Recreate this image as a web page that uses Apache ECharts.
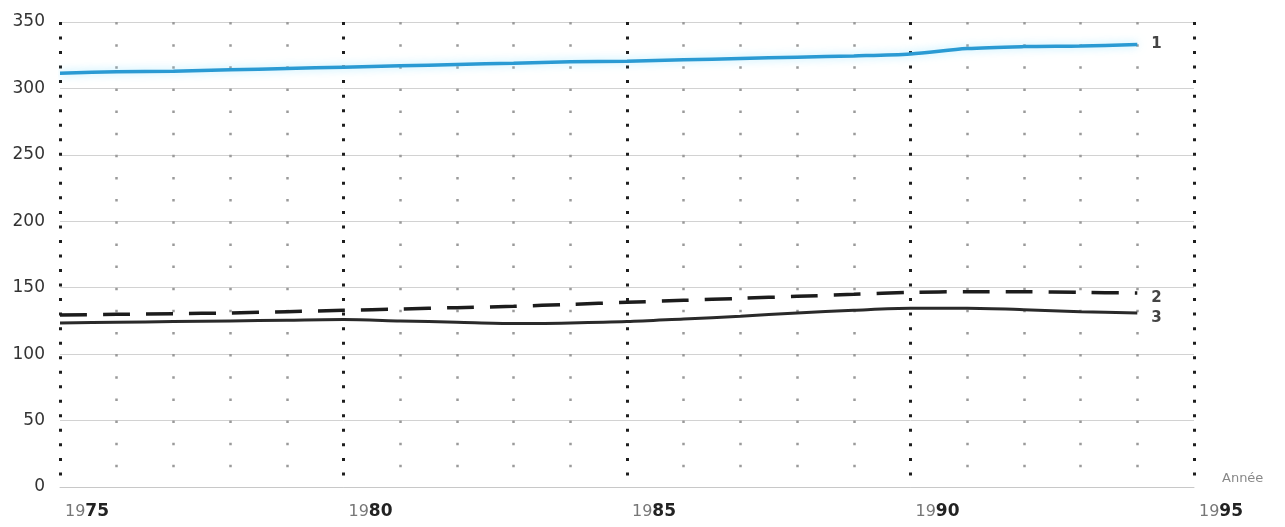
<!DOCTYPE html>
<html>
<head>
<meta charset="utf-8">
<script src="https://cdn.jsdelivr.net/npm/echarts@6/dist/echarts.min.js"></script>
<style>
html,body{margin:0;padding:0;background:#fff;}
#chart{width:1285px;height:527px;}
</style>
</head>
<body>
<div id="chart"></div>
<script>
// ---- data ----
const years = [1975,1976,1977,1978,1979,1980,1981,1982,1983,1984,1985,1986,1987,1988,1989,1990,1991,1992,1993,1994];
const series1 = [311.5,312.5,313,314,315,316,317,318,319,320,320.5,321.5,322.5,323.5,324.5,326,330,331.5,332,333];
const series2 = [129.5,130,130.5,131,132,133,134,135,136,137.5,139,140.5,142,143.5,145,146.5,147,147,146.5,146];
const series3 = [123.5,124,124.5,125,125.5,126,125,124,123,123.5,124.5,126.5,128.5,131,133,134.5,134.5,133.5,132,131];
const seriesNames = ['1','2','3'];
const yTicks = [0,50,100,150,200,250,300,350];
const xTickLabels = ['1975','1980','1985','1990','1995'];
const axisName = 'Année';

const pairs = arr => years.map((y,i)=>[y,arr[i]]);
const chart = echarts.init(document.getElementById('chart'), null, {renderer:'canvas'});

const minorColors = ['rgba(0,0,0,0)','#9a9a9a','#9a9a9a','#9a9a9a','#9a9a9a'];

const endLbl = (txt, off) => ({
  show:true, formatter: txt, distance: 14, offset: off,
  fontFamily:'DejaVu Sans', fontWeight:'bold', fontSize:15, color:'#444'
});

chart.setOption({
  animation:false,
  backgroundColor:'#ffffff',
  grid:{left:60,right:91,top:22,bottom:40,containLabel:false},
  xAxis:[{
    type:'value', min:1975, max:1995, interval:5,
    name: axisName, nameLocation:'end', nameGap:28,
    nameTextStyle:{fontFamily:'DejaVu Sans',fontSize:13,color:'#888',verticalAlign:'bottom',padding:[0,0,2,0]},
    axisLine:{show:true,lineStyle:{color:'#c8c8c8',width:1}},
    axisTick:{show:false},
    axisLabel:{
      show:true, align:'left', margin:16, padding:[0,0,0,5],
      formatter: v => {
        const s = xTickLabels[xTickLabels.indexOf(String(v))] || String(v);
        return '{a|' + s.slice(0,2) + '}{b|' + s.slice(2) + '}';
      },
      rich:{
        a:{fontFamily:'DejaVu Sans',fontSize:16,fontWeight:'normal',color:'#777'},
        b:{fontFamily:'DejaVu Sans',fontSize:17,fontWeight:'bold',color:'#222'}
      }
    },
    splitLine:{show:true,lineStyle:{color:'#1e1e1e',width:3,type:[3,11.53],cap:'butt'}}
  },{
    type:'value', min:1975, max:1995, interval:1, position:'bottom',
    axisLine:{show:false}, axisTick:{show:false}, axisLabel:{show:false},
    splitLine:{show:true,lineStyle:{color:minorColors,width:2.5,type:[2.5,19.64],cap:'butt'}}
  }],
  yAxis:{
    type:'value', min:0, max:350, interval:50,
    axisLine:{show:false}, axisTick:{show:false},
    axisLabel:{show:true, margin:15, fontFamily:'DejaVu Sans', fontSize:17, color:'#333',
      formatter: v => yTicks.includes(v) ? String(v) : ''},
    splitLine:{show:true,lineStyle:{color:'#d2d2d2',width:1}}
  },
  series:[{
    name:seriesNames[0], type:'line', data:pairs(series1), xAxisIndex:0, showSymbol:false, smooth:0.3,
    lineStyle:{color:'#2a9ad3',width:3.5,shadowColor:'rgba(120,220,255,0.6)',shadowBlur:8},
    endLabel:endLbl(seriesNames[0],[0,0]), z:5
  },{
    name:seriesNames[1], type:'line', data:pairs(series2), xAxisIndex:0, showSymbol:false, smooth:0.3,
    lineStyle:{color:'#1c1c1c',width:3.5,type:[27,16]},
    endLabel:endLbl(seriesNames[1],[0,5]), z:4
  },{
    name:seriesNames[2], type:'line', data:pairs(series3), xAxisIndex:0, showSymbol:false, smooth:0.3,
    lineStyle:{color:'#2a2a2a',width:3},
    endLabel:endLbl(seriesNames[2],[0,5]), z:4
  }]
});
</script>
</body>
</html>
